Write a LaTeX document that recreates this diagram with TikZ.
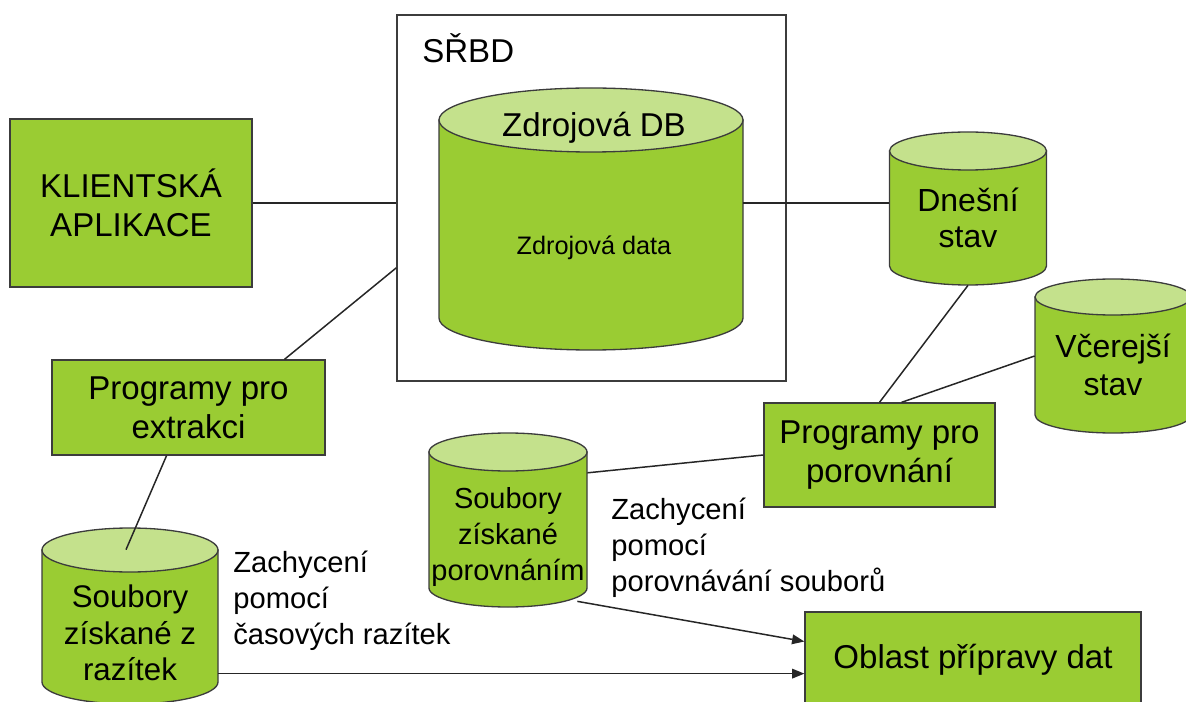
\documentclass[tikz,border=0pt]{standalone}
\usepackage{fontspec}
\setmainfont{Liberation Sans}
\usetikzlibrary{arrows.meta,calc,fit}
\definecolor{boxgreen}{RGB}{154,204,51}
\definecolor{lidgreen}{RGB}{196,225,140}
\definecolor{edgegray}{RGB}{60,60,60}
\tikzset{greenbox/.style={draw=edgegray,fill=boxgreen,line width=0.75pt,align=center,inner sep=0pt,font=\fontsize{18.8}{22.2}\selectfont},
cantext/.style={align=center,inner sep=0pt,font=\fontsize{17.8}{20.8}\selectfont},
note/.style={align=left,anchor=north west,inner sep=0pt,font=\fontsize{16.6}{20.5}\selectfont},
link/.style={draw=black!85,line width=0.85pt},
flow/.style={link,-{Triangle[length=7pt,width=5.5pt]}}}

% can: name, centre x, top y, width, height, lid radius
\newcommand{\dbcan}[6]{%
  \filldraw[draw=edgegray,fill=boxgreen,line width=0.75pt] (#2-#4/2,#3+#6) -- (#2-#4/2,#3+#5-#6)
    arc[start angle=180,end angle=0,x radius=#4/2,y radius=#6] -- (#2+#4/2,#3+#6) -- cycle;
  \filldraw[draw=edgegray,fill=lidgreen,line width=0.75pt] (#2,#3+#6) ellipse [x radius=#4/2,y radius=#6];
  \node[fit={(#2-#4/2,#3) (#2+#4/2,#3+#5)},inner sep=0pt] (#1) {};}

\begin{document}
\begin{tikzpicture}[x=0.02cm,y=-0.02cm]
\useasboundingbox (0,0) rectangle (1186,702);

% database system
\node[draw=edgegray,line width=0.8pt,minimum width=7.78cm,minimum height=7.32cm] (srbd) at (591.5,198) {};
\node[anchor=base west,inner sep=0pt,font=\fontsize{18.8}{22.2}\selectfont] (srbdT) at (422,63) {SŘBD};
\dbcan{zdroj}{591}{88}{304}{262}{32}
\node[inner sep=0pt,font=\fontsize{18.8}{22.2}\selectfont] (zdrojT) at (594,128) {Zdrojová DB};
\node[inner sep=0pt,font=\fontsize{14.4}{17}\selectfont] (zdrojD) at (594,248) {Zdrojová data};

% boxes
\node[greenbox,minimum width=4.84cm,minimum height=3.36cm] (klient) at (131,203) {KLIENTSKÁ\\APLIKACE};
\node[greenbox,minimum width=5.46cm,minimum height=1.9cm] (extr) at (188.5,407.5) {Programy pro\\extrakci};
\node[greenbox,minimum width=4.62cm,minimum height=2.08cm] (porov) at (879.5,455) {Programy pro\\porovnání};
\node[greenbox,minimum width=6.72cm,minimum height=1.92cm] (oblast) at (973,660) {Oblast přípravy dat};

% cans
\dbcan{dnes}{968}{132}{157}{153}{19}
\node[cantext,font=\fontsize{18.2}{20.5}\selectfont] (dnesT) at (968,218) {Dnešní\\stav};
\dbcan{vcera}{1113}{279}{156}{154}{18}
\node[cantext,font=\fontsize{18.2}{21.5}\selectfont] (vceraT) at (1113,365) {Včerejší\\stav};
\dbcan{sPor}{508}{433}{158}{174}{19}
\node[cantext,font=\fontsize{16.5}{20.3}\selectfont] (sPorT) at (508,537) {Soubory\\získané\\porovnáním};
\dbcan{sRaz}{130}{528}{176}{176}{22}
\node[cantext] (sRazT) at (130,633) {Soubory\\získané z\\razítek};

% notes
\node[note] (noteRaz) at (233,551) {Zachycení\\pomocí\\časových razítek};
\node[note] (notePor) at (611,498) {Zachycení\\pomocí\\porovnávání souborů};

% connectors
\draw[link] (klient.east) -- (klient.east -| srbd.west);
\draw[link] (klient.east -| dnes.west) -- (klient.east -| zdroj.east);
\draw[link] ($(srbd.north west)!0.69!(srbd.south west)$) -- ($(extr.north west)!0.85!(extr.north east)$);
\draw[link] ($(extr.south west)!0.42!(extr.south east)$) -- ($(sRaz.north)+(-4,22)$);
\draw[link] (dnes.south) -- (porov.north);
\draw[link] (vcera.west) -- ($(porov.north)+(22,0)$);
\draw[link] ($(sPor.north east)!0.23!(sPor.south east)$) -- (porov.west);
\coordinate (oIn) at ($(oblast.north west)!0.64!(oblast.south west)$);
\draw[flow] ($(sPor.south east)+(-10,-6)$) -- ($(oblast.north west)!0.31!(oblast.south west)$);
\draw[flow] (sRaz.east |- oIn) -- (oIn);
\end{tikzpicture}
\end{document}
